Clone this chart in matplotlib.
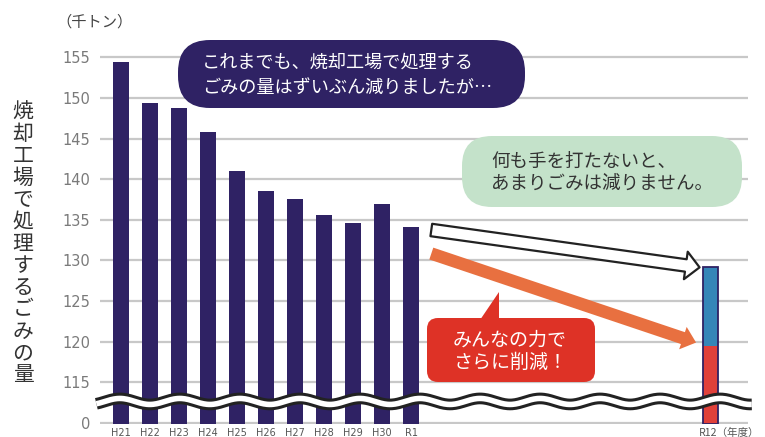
import numpy as np
import matplotlib
matplotlib.use("Agg")
import matplotlib.pyplot as plt
import matplotlib.transforms as mtransforms
from matplotlib.patches import FancyBboxPatch, Polygon, FancyArrowPatch, ArrowStyle

plt.rcParams['font.family'] = ['Noto Sans CJK JP', 'DejaVu Sans']

# データ（千トン）
years = ['H21', 'H22', 'H23', 'H24', 'H25', 'H26', 'H27', 'H28', 'H29', 'H30', 'R1']
amounts = [154.4, 149.4, 148.8, 145.8, 141.0, 138.5, 137.6, 135.6, 134.6, 136.9, 134.1]
target_label = 'R12（年度）'
target_reduced = 119.5     # みんなの力でさらに削減
target_nothing = 129.2     # 何も手を打たない場合
yticks = [110, 115, 120, 125, 130, 135, 140, 145, 150, 155]
ytick_labels = ['0', '115', '120', '125', '130', '135', '140', '145', '150', '155']

W, H, DPI = 765, 437, 100
fig = plt.figure(figsize=(W / DPI, H / DPI), dpi=DPI)
# pixel coordinates (origin top-left)
pix = mtransforms.Affine2D().scale(1 / DPI, -1 / DPI).translate(0, H / DPI) + fig.dpi_scale_trans

ymin, ymax = 109.85, 156
ax = fig.add_axes([100 / W, (H - 424.2) / H, 648 / W, (424.2 - 49.2) / H])
ax.set_xlim(-0.724, 21.62)
ax.set_ylim(ymin, ymax)

navy = '#2f2264'
x = np.arange(len(years))
ax.bar(x, np.array(amounts) - ymin, bottom=ymin, width=0.55, color=navy, zorder=3)

x12 = 20.33
ax.bar([x12], [target_reduced - ymin], bottom=ymin, width=0.52, color='#e0403a', zorder=3)
ax.bar([x12], [target_nothing - target_reduced], bottom=target_reduced, width=0.52,
       color='#3586b8', zorder=3)
ax.bar([x12], [target_nothing - ymin], bottom=ymin, width=0.52, facecolor='none',
       edgecolor=navy, linewidth=1.3, zorder=4)

for yv in yticks:
    ax.axhline(yv, color='#c8c8c8', lw=1.6, zorder=1)

for s in ax.spines.values():
    s.set_visible(False)
ax.set_yticks(yticks)
ax.set_yticklabels(ytick_labels, family='DejaVu Sans', fontsize=10.5, color='#7a7a7a')
ax.set_xticks(x)
ax.set_xticklabels(years, family='DejaVu Sans', fontsize=7, color='#555555')
ax.tick_params(axis='both', length=0)
ax.tick_params(axis='y', pad=7)
ax.tick_params(axis='x', pad=3)
fig.text(699, 433, target_label, transform=pix, fontsize=7.6, color='#555555',
         ha='left', va='center')

# 波線（省略記号）
xs = np.linspace(-0.85, 21.75, 600)
ys = 112.65 + 0.37 * np.cos(2 * np.pi * (xs - 2.03) / 2.07)
ax.plot(xs, ys, color='#222222', lw=8.4, solid_capstyle='butt', zorder=6, clip_on=False)
ax.plot(xs, ys, color='white', lw=4.0, solid_capstyle='butt', zorder=7, clip_on=False)

# 矢印
r1 = len(years) - 1
arr_white = FancyArrowPatch((r1 + 0.7, 133.75), (x12 - 0.38, target_nothing - 0.05),
                            arrowstyle=ArrowStyle.Simple(head_length=10, head_width=20, tail_width=9),
                            facecolor='white', edgecolor='#222222', lw=1.6,
                            shrinkA=0, shrinkB=0, zorder=8)
ax.add_patch(arr_white)
arr_orange = FancyArrowPatch((r1 + 0.7, 130.85), (x12 - 0.5, target_reduced + 0.4),
                             arrowstyle=ArrowStyle.Simple(head_length=10, head_width=17, tail_width=9),
                             facecolor='#e87040', edgecolor='none',
                             shrinkA=0, shrinkB=0, zorder=8)
ax.add_patch(arr_orange)

# 吹き出し
b1 = FancyBboxPatch((178, 40), 347, 68, boxstyle='round,pad=0,rounding_size=32',
                    facecolor=navy, edgecolor='none', transform=pix, zorder=10)
fig.add_artist(b1)
fig.text(202, 63, 'これまでも、焼却工場で処理する', transform=pix, fontsize=13.1,
         color='white', ha='left', va='center', zorder=11)
fig.text(202, 88, 'ごみの量はずいぶん減りましたが…', transform=pix, fontsize=13.1,
         color='white', ha='left', va='center', zorder=11)

b2 = FancyBboxPatch((462, 136), 280, 71, boxstyle='round,pad=0,rounding_size=30',
                    facecolor='#c4e2ca', edgecolor='none', transform=pix, zorder=10)
fig.add_artist(b2)
fig.text(491, 162, '何も手を打たないと、', transform=pix, fontsize=13.3,
         color='#333333', ha='left', va='center', zorder=11)
fig.text(491, 184, 'あまりごみは減りません。', transform=pix, fontsize=13.3,
         color='#333333', ha='left', va='center', zorder=11)

red = '#de3226'
b3 = FancyBboxPatch((427, 318), 168, 64, boxstyle='round,pad=0,rounding_size=11',
                    facecolor=red, edgecolor='none', transform=pix, zorder=10)
fig.add_artist(b3)
fig.add_artist(Polygon([(480, 320), (499, 292), (499, 320)], closed=True, facecolor=red,
                       edgecolor='none', transform=pix, zorder=10))
fig.text(453, 340, 'みんなの力で', transform=pix, fontsize=13.7,
         color='white', ha='left', va='center', zorder=11)
fig.text(453, 362, 'さらに削減！', transform=pix, fontsize=13.7,
         color='white', ha='left', va='center', zorder=11)

# 単位・縦書きラベル
fig.text(56, 22, '（千トン）', transform=pix, fontsize=11, color='#444444',
         ha='left', va='center')
ylabel = '焼却工場で処理するごみの量'
for i, ch in enumerate(ylabel):
    fig.text(23, 112.5 + 21.9 * i, ch, transform=pix, fontsize=15, color='#333333',
             ha='center', va='center')

fig.savefig('out.png', dpi=DPI)
